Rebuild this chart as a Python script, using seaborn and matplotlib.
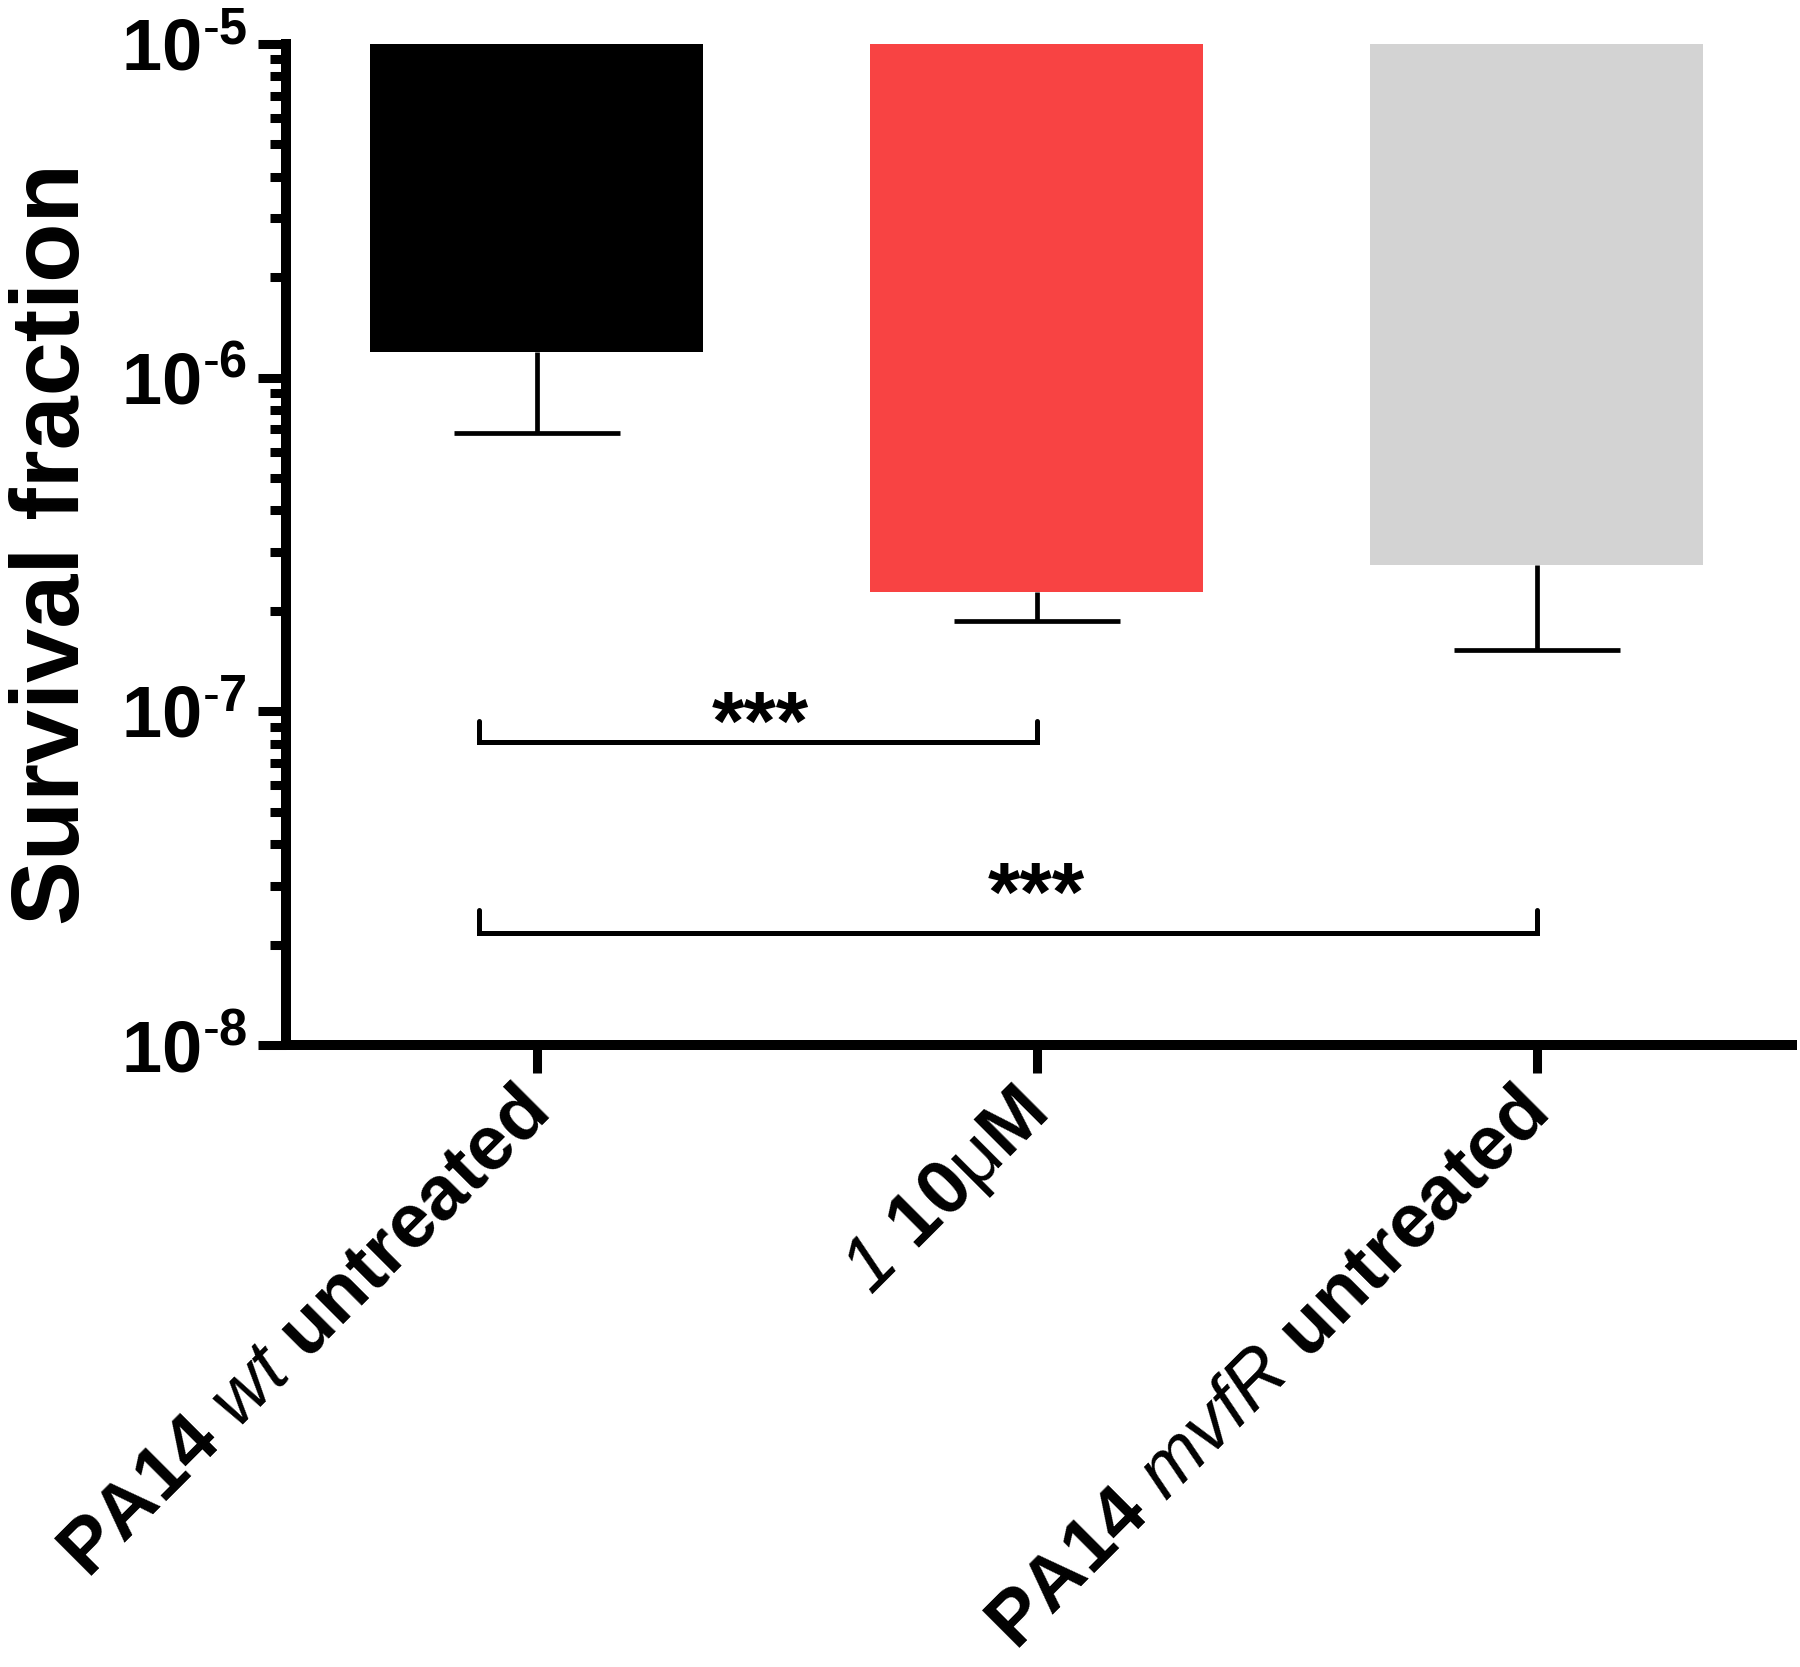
import numpy as np
import pandas as pd
import matplotlib
matplotlib.use("Agg")
import matplotlib.pyplot as plt
import seaborn as sns
from matplotlib.ticker import LogLocator, NullFormatter, FuncFormatter

# ---- data ----
groups = ["PA14 wt untreated", "1 10uM", "PA14 mvfR untreated"]
tick_labels = [r"PA14 $\mathit{wt}$ untreated",
               r"$\mathsf{1}$ 10$\mathrm{\mu}$M",
               r"PA14 $\mathit{mvfR}$ untreated"]
survival = [1.19e-6, 2.28e-7, 2.74e-7]      # bar ends
err_low = [6.81e-7, 1.87e-7, 1.53e-7]       # lower end of error bars
bar_colors = ["#000000", "#F84343", "#D3D3D3"]
y_top = 1e-5
y_bottom = 1e-8

bracket_left = [-0.115, -0.115]
bracket_right = [1.0, 2.0]
bracket_y = [8.07e-8, 2.17e-8]
bracket_tip = [9.38e-8, 2.54e-8]
star_x = [0.448, 1.0]
star_y = [7.65e-8, 2.35e-8]
star_text = ["***", "***"]

# ---- style ----
sns.set_theme(style="ticks")
plt.rcParams["font.family"] = ["Liberation Sans", "DejaVu Sans"]
plt.rcParams["font.weight"] = "bold"
plt.rcParams["axes.unicode_minus"] = False
plt.rcParams["mathtext.fontset"] = "custom"
plt.rcParams["mathtext.rm"] = "Liberation Sans:weight=normal"
plt.rcParams["mathtext.it"] = "Liberation Sans:style=italic:weight=normal"
plt.rcParams["mathtext.sf"] = "Liberation Sans:style=italic:weight=normal"
plt.rcParams["mathtext.bf"] = "Liberation Sans:weight=bold"

fig = plt.figure(figsize=(18, 16.67), dpi=100)
ax = fig.add_axes([0.1589, 0.3731, 0.8367, 0.6005])

df = pd.DataFrame({"group": groups,
                   "height": [s - y_top for s in survival]})
sns.barplot(data=df, x="group", y="height", hue="group", palette=bar_colors,
            saturation=1, bottom=y_top, width=0.666, linewidth=0, legend=False,
            errorbar=None, ax=ax, zorder=2)

ax.set_yscale("log")
ax.set_ylim(y_bottom, y_top)
ax.set_xlim(-0.501, 2.511)

xs = np.arange(len(groups))
ax.vlines(xs, err_low, survival, colors="black", linewidth=3.4, zorder=3)
ax.hlines(err_low, xs - 0.166, xs + 0.166, colors="black", linewidth=3.4, zorder=3)

for x0, x1, yb, yt in zip(bracket_left, bracket_right, bracket_y, bracket_tip):
    ax.plot([x0, x0, x1, x1], [yt, yb, yb, yt], color="black", linewidth=3.6,
            solid_joinstyle="miter", zorder=3)
for sx, sy, st in zip(star_x, star_y, star_text):
    ax.text(sx, sy, st, ha="center", va="baseline", fontsize=60,
            fontweight="bold", color="black")


def decade_label(v, pos):
    e = int(round(np.log10(v)))
    sign = r"\text{-}" if e < 0 else ""
    return r"$\mathdefault{10^{%s%d}}$" % (sign, abs(e))


ax.yaxis.set_major_locator(LogLocator(base=10, numticks=10))
ax.yaxis.set_major_formatter(FuncFormatter(decade_label))
ax.yaxis.set_minor_locator(LogLocator(base=10, subs=np.arange(2, 10), numticks=10))
ax.yaxis.set_minor_formatter(NullFormatter())

sns.despine(ax=ax)
for side in ["left", "bottom"]:
    ax.spines[side].set_linewidth(7.2)
    ax.spines[side].set_color("black")

ax.tick_params(axis="both", which="major", direction="out", length=20, width=6.5,
               color="black", labelsize=52, labelcolor="black")
ax.tick_params(axis="y", which="minor", direction="out", length=11.5, width=6.5,
               color="black")
ax.tick_params(axis="y", which="major", pad=8)
ax.tick_params(axis="x", which="major", pad=22, labelsize=55)

ax.set_xticks(xs)
ax.set_xticklabels(tick_labels, rotation=45, ha="right", rotation_mode="anchor",
                   va="center")
ax.set_xlabel("")
ax.set_ylabel("Survival fraction", fontsize=70, fontweight="bold", va="center",
              color="black")
ax.yaxis.set_label_coords(-0.154, 0.5)

fig.savefig("out.png", dpi=100, facecolor="white")
